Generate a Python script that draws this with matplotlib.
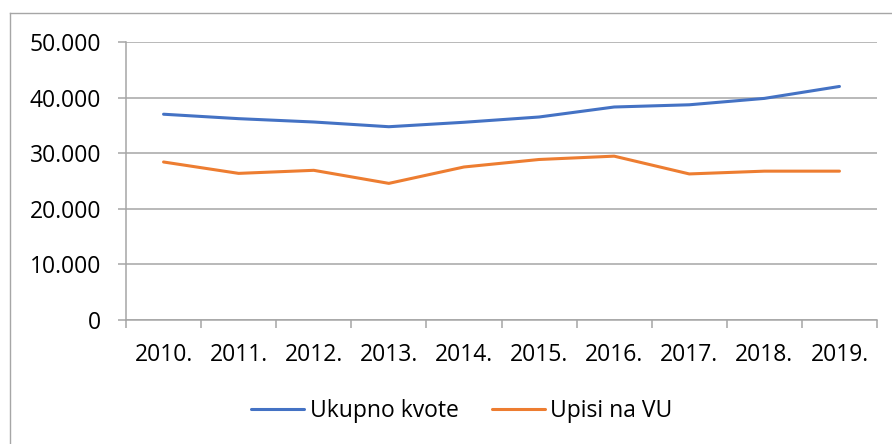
import matplotlib
matplotlib.use("Agg")
import matplotlib.pyplot as plt
from matplotlib.ticker import FuncFormatter, FixedLocator
from matplotlib.lines import Line2D

plt.rcParams['font.family'] = ['Open Sans', 'DejaVu Sans']

years = ["2010.", "2011.", "2012.", "2013.", "2014.", "2015.", "2016.", "2017.", "2018.", "2019."]
ukupno_kvote = [37050, 36250, 35650, 34800, 35600, 36550, 38350, 38750, 39900, 42050]
upisi_na_vu = [28450, 26400, 26950, 24600, 27550, 28900, 29500, 26300, 26800, 26800]

W, H = 892, 444
FS = 16.5
PX = 72 / 100  # points per pixel
fig = plt.figure(figsize=(W / 100, H / 100), dpi=100)
ax = fig.add_axes([126 / W, 1 - 320 / H, (877 - 126) / W, (320 - 42.3) / H])

grid_c = "#A6A6A6"
x = list(range(len(years)))
ax.plot(x, ukupno_kvote, color="#4472C4", lw=2.2, solid_capstyle="round", label="Ukupno kvote", zorder=3)
ax.plot(x, upisi_na_vu, color="#ED7D31", lw=2.2, solid_capstyle="round", label="Upisi na VU", zorder=3)

ax.set_xlim(-0.5, len(years) - 0.5)
ax.set_ylim(0, 50000)
ax.set_yticks(range(0, 50001, 10000))
ax.yaxis.set_major_formatter(FuncFormatter(lambda v, p: f"{v:,.0f}".replace(",", ".")))
ax.yaxis.grid(True, color=grid_c, lw=1.1)
ax.set_axisbelow(True)

ax.xaxis.set_major_locator(FixedLocator([i - 0.5 for i in range(len(years) + 1)]))
ax.xaxis.set_major_formatter(FuncFormatter(lambda v, p: ""))
ax.xaxis.set_minor_locator(FixedLocator(x))
ax.set_xticklabels(years, minor=True)
ax.tick_params(axis="x", which="minor", length=0, pad=23 * PX, labelsize=FS)
ax.tick_params(axis="x", which="major", length=8 * PX, color=grid_c, width=1.1)
ax.tick_params(axis="y", length=8 * PX, color=grid_c, width=1.1, pad=17 * PX, labelsize=FS)

for s in ["top", "right"]:
    ax.spines[s].set_visible(False)
for s in ["left", "bottom"]:
    ax.spines[s].set_color(grid_c)
    ax.spines[s].set_linewidth(1.1)

fig.legend(loc="center", bbox_to_anchor=(462 / W, 1 - 410.7 / H), ncol=2, frameon=False,
           fontsize=FS, handlelength=2.3, handletextpad=0.25, columnspacing=1.45)

frame_c = "#A6A6A6"
fig.add_artist(Line2D([10 / W, 1.0], [1 - 13 / H, 1 - 13 / H], color=frame_c, lw=1.0, transform=fig.transFigure))
fig.add_artist(Line2D([10 / W, 10 / W], [1 - 13 / H, 0], color=frame_c, lw=1.0, transform=fig.transFigure))

fig.savefig("out.png", dpi=100)
